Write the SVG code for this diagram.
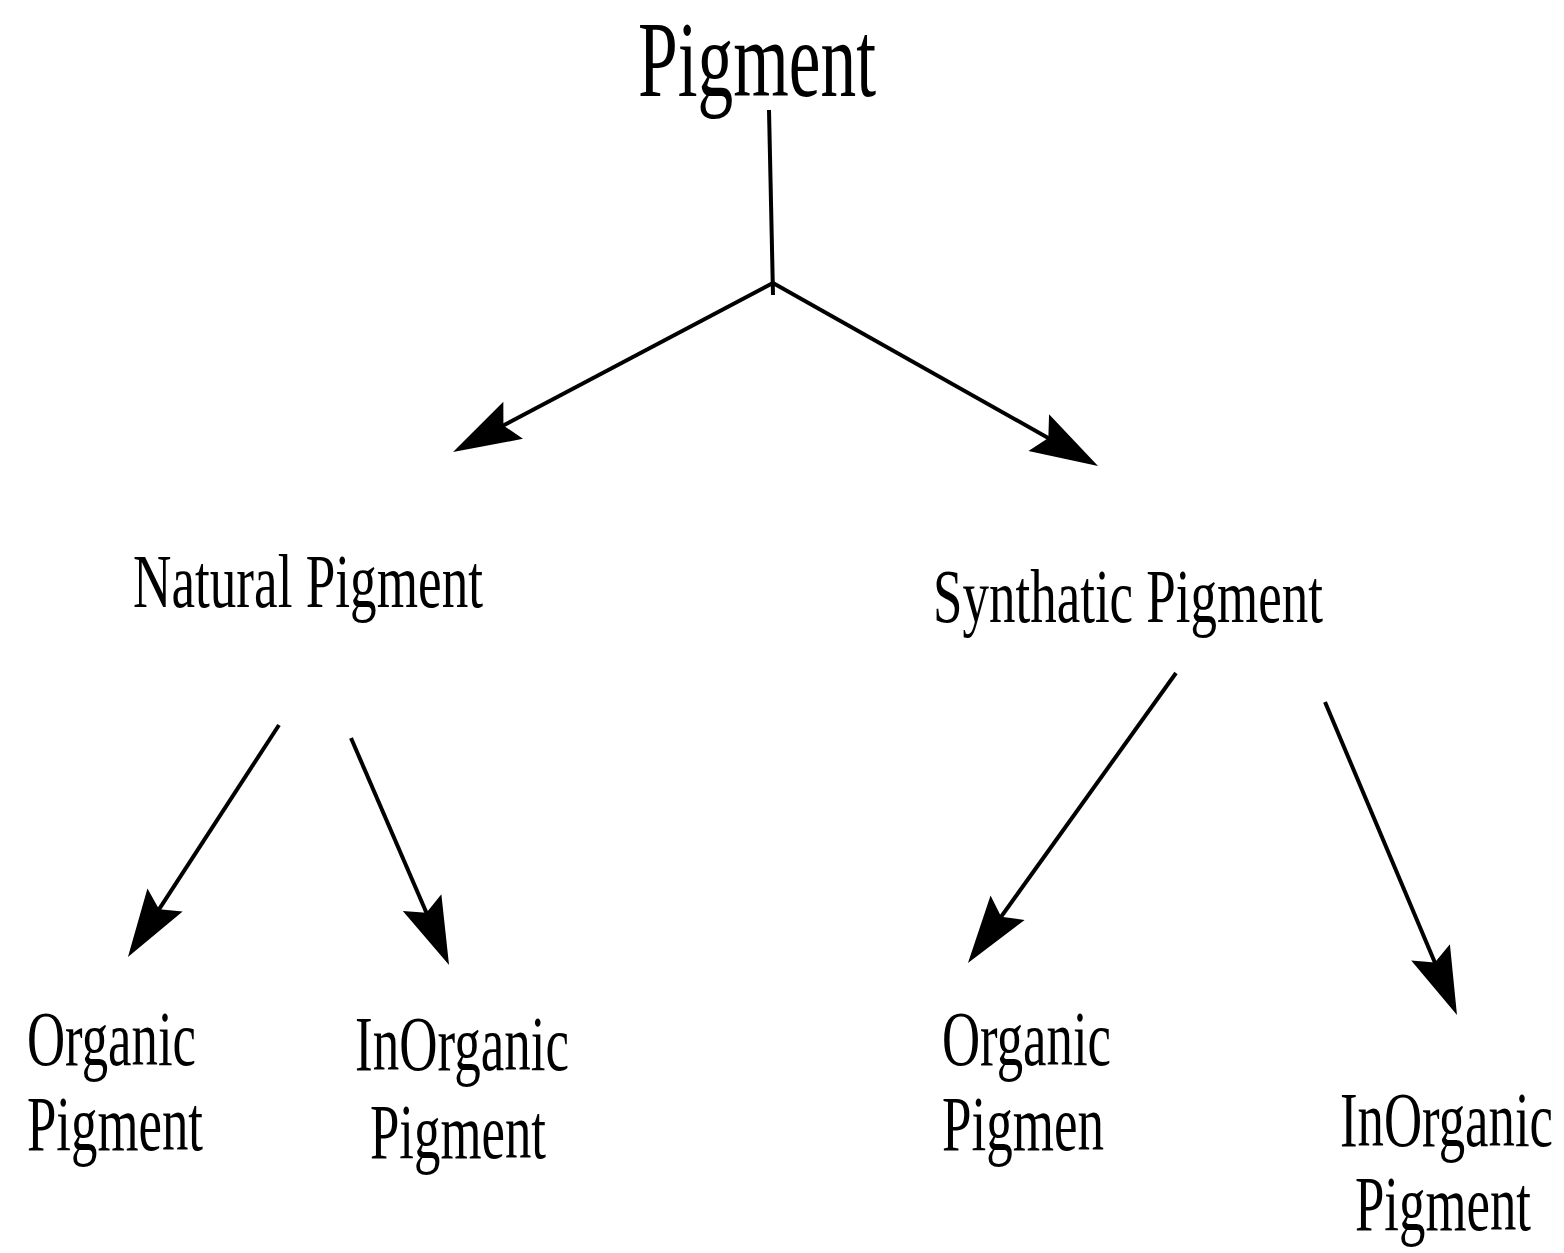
<svg xmlns="http://www.w3.org/2000/svg" width="1564" height="1253" viewBox="0 0 1564 1253">
<style>
text{font-family:"Liberation Serif","Times New Roman",serif;fill:#000}
.l1{font-size:107px}
.l2{font-size:76px}
.l3{font-size:78px}
.c{stroke:#000;stroke-width:4;fill:none}
</style>
<defs>
<marker id="ah" markerUnits="userSpaceOnUse" refX="0" refY="0" markerWidth="80" markerHeight="50" viewBox="-30 -25 80 50" orient="auto" overflow="visible">
<path d="M45,0 L-23,-21 L-12,0 L-23,21 Z" fill="#000"/>
</marker>
</defs>
<rect width="1564" height="1253" fill="#fff"/>
<g id="connectors">
<path class="c" d="M769,110 L773,295"/>
<path class="c" d="M773,283 L492.8,431" marker-end="url(#ah)"/>
<path class="c" d="M773,283 L1058.8,443.9" marker-end="url(#ah)"/>
<path class="c" d="M279,725 L152.5,919.3" marker-end="url(#ah)"/>
<path class="c" d="M351,738 L431.2,923.7" marker-end="url(#ah)"/>
<path class="c" d="M1176,673 L994.2,926.4" marker-end="url(#ah)"/>
<path class="c" d="M1325,702 L1439.5,973.5" marker-end="url(#ah)"/>
</g>
<g id="pigment"><text class="l1" transform="translate(638,96) scale(0.667,1)" textLength="356.8" lengthAdjust="spacingAndGlyphs">Pigment</text></g>
<g id="natural"><text class="l2" transform="translate(133,607) scale(0.7,1)" textLength="500" lengthAdjust="spacingAndGlyphs">Natural Pigment</text></g>
<g id="synthatic"><text class="l2" transform="translate(933,622) scale(0.697,1)" textLength="559.5" lengthAdjust="spacingAndGlyphs">Synthatic Pigment</text></g>
<g id="nat-organic">
<text class="l3" transform="translate(27,1065) scale(0.673,1)" textLength="251.1" lengthAdjust="spacingAndGlyphs">Organic</text>
<text class="l3" transform="translate(27,1150) scale(0.677,1)" textLength="260" lengthAdjust="spacingAndGlyphs">Pigment</text>
</g>
<g id="nat-inorganic">
<text class="l3" transform="translate(355,1070) scale(0.677,1)" textLength="316.1" lengthAdjust="spacingAndGlyphs">InOrganic</text>
<text class="l3" transform="translate(370,1158) scale(0.677,1)" textLength="260" lengthAdjust="spacingAndGlyphs">Pigment</text>
</g>
<g id="syn-organic">
<text class="l3" transform="translate(942,1065) scale(0.673,1)" textLength="251.1" lengthAdjust="spacingAndGlyphs">Organic</text>
<text class="l3" transform="translate(942,1150) scale(0.68,1)" textLength="238.2" lengthAdjust="spacingAndGlyphs">Pigmen</text>
</g>
<g id="syn-inorganic">
<text class="l3" transform="translate(1340,1146) scale(0.677,1)" textLength="314.6" lengthAdjust="spacingAndGlyphs">InOrganic</text>
<text class="l3" transform="translate(1355,1230) scale(0.677,1)" textLength="260" lengthAdjust="spacingAndGlyphs">Pigment</text>
</g>
</svg>
